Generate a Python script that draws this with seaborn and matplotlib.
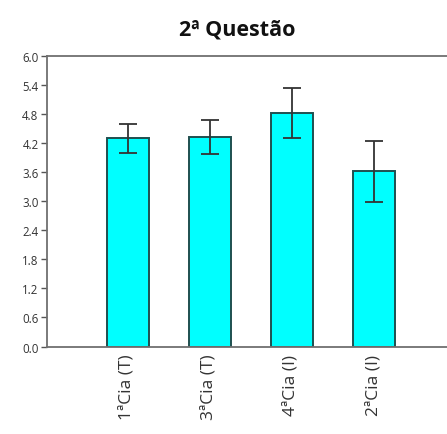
import matplotlib
matplotlib.use("Agg")
import matplotlib.pyplot as plt
import seaborn as sns
import numpy as np

categories = ["1ªCia (T)", "3ªCia (T)", "4ªCia (I)", "2ªCia (I)"]
means = [4.29, 4.32, 4.82, 3.61]
errors = [0.30, 0.36, 0.52, 0.62]
yticks = [0.0, 0.6, 1.2, 1.8, 2.4, 3.0, 3.6, 4.2, 4.8, 5.4, 6.0]
title = "2ª Questão"

sns.set_theme(style="white")
plt.rcParams['font.family'] = ['Open Sans', 'DejaVu Sans']

fig = plt.figure(figsize=(4.47, 4.35), dpi=100)
ax = fig.add_axes([0.105, 0.201, 0.895, 0.669])

sns.barplot(x=categories, y=means, ax=ax, color="#00FFFF", saturation=1,
            edgecolor="#1f4f4f", linewidth=1.4, width=0.51, errorbar=None)
ax.errorbar(x=np.arange(len(categories)), y=means, yerr=errors, fmt="none",
            ecolor="#333333", elinewidth=1.3, capsize=6.5, capthick=1.3)

ax.set_xlim(-0.988, 3.89)
ax.set_ylim(0, 6.0)
ax.set_yticks(yticks)
ax.set_yticklabels([f"{t:.1f}" for t in yticks], fontsize=8.3, color="#333333")
ax.set_xticks(range(len(categories)))
ax.set_xticklabels(categories, rotation=90, fontsize=12.5, color="#333333")
ax.tick_params(axis="y", direction="out", length=4, width=1, color="#555555", pad=2, left=True)
ax.tick_params(axis="x", length=0, pad=5)

for s in ["left", "bottom", "top"]:
    ax.spines[s].set_visible(True)
    ax.spines[s].set_color("#707070")
    ax.spines[s].set_linewidth(1.3)
ax.spines["right"].set_visible(False)
ax.set_xlabel("")
ax.set_ylabel("")

fig.text(0.53, 0.93, title, ha="center", va="center", fontsize=15.5, fontweight="bold", color="#111111")

fig.savefig("out.png", dpi=100)
